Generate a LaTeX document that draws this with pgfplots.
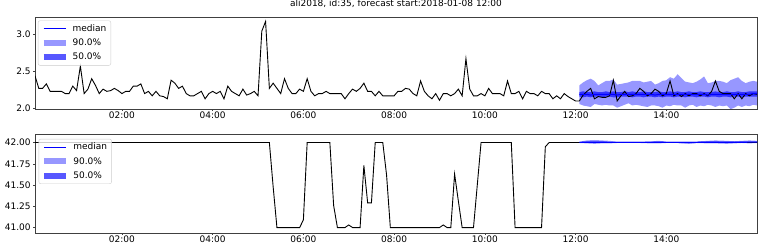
\documentclass[border=0pt]{standalone}
\usepackage{fontspec}
\setmainfont{DejaVu Sans}
\usepackage{pgfplots}
\usepackage{pgfplotstable}
\pgfplotsset{compat=1.18}
\usepgfplotslibrary{fillbetween}

% observed target, 5 min steps, i=1 is 00:05
\pgfplotstableread{
i v
1 2.44
2 2.27
3 2.27
4 2.33
5 2.23
6 2.23
7 2.23
8 2.23
9 2.20
10 2.20
11 2.30
12 2.24
13 2.57
14 2.20
15 2.26
16 2.40
17 2.31
18 2.20
19 2.26
20 2.23
21 2.24
22 2.27
23 2.24
24 2.20
25 2.23
26 2.23
27 2.30
28 2.30
29 2.33
30 2.20
31 2.23
32 2.17
33 2.23
34 2.17
35 2.16
36 2.13
37 2.38
38 2.34
39 2.27
40 2.30
41 2.20
42 2.17
43 2.17
44 2.20
45 2.23
46 2.13
47 2.20
48 2.23
49 2.20
50 2.23
51 2.13
52 2.30
53 2.23
54 2.20
55 2.17
56 2.26
57 2.18
58 2.20
59 2.23
60 2.17
61 3.04
62 3.17
63 2.27
64 2.34
65 2.27
66 2.20
67 2.40
68 2.27
69 2.20
70 2.20
71 2.26
72 2.23
73 2.40
74 2.23
75 2.17
76 2.20
77 2.20
78 2.23
79 2.20
80 2.20
81 2.20
82 2.20
83 2.13
84 2.20
85 2.26
86 2.23
87 2.27
88 2.34
89 2.23
90 2.23
91 2.17
92 2.23
93 2.17
94 2.17
95 2.17
96 2.17
97 2.23
98 2.23
99 2.27
100 2.26
101 2.20
102 2.17
103 2.37
104 2.23
105 2.17
106 2.13
107 2.20
108 2.11
109 2.20
110 2.20
111 2.17
112 2.20
113 2.26
114 2.17
115 2.67
116 2.26
117 2.17
118 2.17
119 2.20
120 2.17
121 2.27
122 2.20
123 2.20
124 2.20
125 2.17
126 2.37
127 2.20
128 2.20
129 2.23
130 2.13
131 2.23
132 2.20
133 2.20
134 2.17
135 2.23
136 2.20
137 2.20
138 2.13
139 2.17
140 2.13
141 2.20
142 2.16
143 2.13
144 2.10
145 2.10
146 2.18
147 2.23
148 2.27
149 2.13
150 2.16
151 2.15
152 2.15
153 2.17
154 2.38
155 2.10
156 2.17
157 2.23
158 2.16
159 2.17
160 2.20
161 2.27
162 2.23
163 2.17
164 2.20
165 2.26
166 2.23
167 2.17
168 2.20
169 2.37
170 2.17
171 2.20
172 2.16
173 2.20
174 2.17
175 2.20
176 2.20
177 2.17
178 2.20
179 2.17
180 2.23
181 2.37
182 2.23
183 2.20
184 2.20
185 2.20
186 2.13
187 2.20
188 2.13
189 2.20
190 2.17
191 2.20
192 2.19
}\tophist

\pgfplotstableread{
i lo90 lo50 med hi50 hi90
145 2.06 2.16 2.19 2.22 2.31
146 2.04 2.15 2.19 2.23 2.35
147 2.03 2.16 2.19 2.22 2.38
148 2.02 2.15 2.18 2.22 2.40
149 2.06 2.16 2.19 2.23 2.37
150 2.05 2.16 2.19 2.22 2.31
151 2.04 2.15 2.19 2.22 2.34
152 2.05 2.16 2.19 2.23 2.37
153 2.04 2.16 2.19 2.22 2.37
154 2.04 2.15 2.19 2.23 2.39
155 2.01 2.15 2.18 2.22 2.32
156 2.03 2.16 2.19 2.22 2.33
157 2.05 2.16 2.19 2.23 2.34
158 2.07 2.16 2.19 2.22 2.35
159 2.04 2.15 2.19 2.23 2.37
160 2.05 2.16 2.19 2.22 2.37
161 2.04 2.16 2.19 2.22 2.37
162 2.03 2.15 2.19 2.23 2.35
163 2.02 2.16 2.19 2.22 2.36
164 2.04 2.16 2.19 2.22 2.37
165 2.04 2.15 2.18 2.22 2.32
166 2.03 2.16 2.19 2.23 2.34
167 2.01 2.15 2.19 2.22 2.37
168 2.04 2.16 2.19 2.22 2.38
169 2.03 2.16 2.19 2.23 2.42
170 2.05 2.15 2.19 2.22 2.40
171 2.04 2.16 2.19 2.23 2.46
172 2.04 2.16 2.19 2.22 2.41
173 2.01 2.15 2.19 2.22 2.36
174 2.04 2.16 2.19 2.23 2.35
175 2.05 2.16 2.19 2.22 2.34
176 2.02 2.15 2.19 2.22 2.36
177 2.04 2.16 2.19 2.23 2.39
178 2.03 2.16 2.19 2.22 2.43
179 2.05 2.15 2.18 2.22 2.34
180 2.04 2.16 2.19 2.22 2.35
181 2.02 2.16 2.19 2.23 2.37
182 2.04 2.15 2.19 2.22 2.37
183 2.03 2.16 2.19 2.22 2.36
184 2.04 2.16 2.19 2.23 2.34
185 1.99 2.15 2.19 2.22 2.38
186 2.01 2.16 2.19 2.22 2.40
187 2.04 2.16 2.19 2.23 2.42
188 2.02 2.15 2.19 2.22 2.37
189 2.04 2.16 2.19 2.22 2.34
190 2.03 2.16 2.19 2.23 2.36
191 2.05 2.16 2.20 2.23 2.37
192 2.04 2.16 2.20 2.23 2.36
}\topfc

\pgfplotstableread{
i v
1 42.00
63 42.00
64 41.48
65 41.00
71 41.00
72 41.09
73 42.00
79 42.00
80 41.26
81 41.00
83 41.00
84 41.03
85 41.00
87 41.00
88 41.73
89 41.29
90 41.29
91 42.00
93 42.00
94 41.62
95 41.00
108 41.00
109 41.03
110 41.00
111 41.00
112 41.63
113 41.31
114 41.00
117 41.00
118 41.50
119 42.00
127 42.00
128 41.00
135 41.00
136 41.95
137 42.00
192 42.00
}\bothist

\pgfplotstableread{
i lo90 lo50 med hi50 hi90
145 41.995 41.998 42.002 42.006 42.010
147 41.990 41.995 42.003 42.010 42.025
149 41.985 41.995 42.004 42.012 42.030
151 41.990 41.995 42.003 42.010 42.025
153 41.990 41.996 42.002 42.008 42.020
155 41.995 41.998 42.002 42.006 42.010
158 41.995 41.998 42.002 42.006 42.012
161 41.995 41.998 42.002 42.006 42.010
164 41.990 41.997 42.002 42.007 42.015
166 41.990 41.996 42.003 42.009 42.020
168 41.995 41.998 42.002 42.006 42.012
171 41.995 41.998 42.002 42.006 42.010
174 41.985 41.995 42.000 42.006 42.012
176 41.995 41.998 42.002 42.006 42.012
179 41.990 41.996 42.004 42.010 42.020
181 41.990 41.996 42.004 42.010 42.025
184 41.985 41.995 42.003 42.008 42.020
186 41.990 41.996 42.003 42.008 42.015
188 41.995 41.998 42.004 42.010 42.020
190 41.990 41.997 42.005 42.012 42.025
192 41.995 41.998 42.005 42.010 42.020
}\botfc

\pgfplotsset{
  panel/.style={
    scale only axis, width=722pt,
    xmin=1, xmax=192,
    xtick={24,48,72,96,120,144,168},
    xticklabels={02:00,04:00,06:00,08:00,10:00,12:00,14:00},
    tick align=outside, xtick pos=bottom, ytick pos=left,
    major tick length=2pt,
    axis line style={black!75, line width=0.6pt},
    every tick/.style={black!75, line width=0.6pt},
    font=\fontsize{9}{10.8}\selectfont,
    /pgf/number format/assume math mode=true,
    yticklabel style={inner sep=2.2pt},
    legend cell align=left,
    legend style={anchor=north west, draw=black!20, rounded corners=2pt,
      fill=white, fill opacity=0.8, text opacity=1,
      inner xsep=2.5pt, inner ysep=2pt, row sep=2pt,
      /tikz/every odd column/.append style={column sep=2pt},
      font=\fontsize{9}{10.8}\selectfont},
  },
  medimg/.style={legend image code/.code={\draw[blue, line width=0.9pt] (0pt,0pt) -- (22pt,0pt);}},
  p90img/.style={legend image code/.code={\draw[blue, opacity=0.407, line width=6pt] (0pt,0pt) -- (22pt,0pt);}},
  p50img/.style={legend image code/.code={\draw[blue, opacity=0.66, line width=6pt] (0pt,0pt) -- (22pt,0pt);}},
}

\begin{document}
\begin{tikzpicture}
\path (0,0) rectangle (762pt,248pt);

\begin{axis}[panel,
  at={(35pt,141pt)}, anchor=south west, height=92pt,
  ymin=1.995, ymax=3.232, ytick={2.0,2.5,3.0},
  yticklabel style={/pgf/number format/.cd, fixed, fixed zerofill, precision=1},
  xticklabel style={inner sep=0.3pt},
  title={ali2018, id:35, forecast start:2018-01-08 12:00},
  title style={anchor=base, at={(0.5,1)}, yshift=4pt, inner sep=0pt,
    font=\fontsize{9}{10.8}\selectfont},
  legend style={at={(0.004,0.96)}},
]
\addlegendimage{medimg}\addlegendentry{median}
\addlegendimage{p90img}\addlegendentry{90.0\%}
\addlegendimage{p50img}\addlegendentry{50.0\%}

\addplot[black, line width=0.9pt, forget plot] table[x=i, y=v] {\tophist};
\addplot[blue, line width=1pt, forget plot] table[x=i, y=med] {\topfc};
\addplot[draw=none, name path=u90, forget plot] table[x=i, y=hi90] {\topfc};
\addplot[draw=none, name path=l90, forget plot] table[x=i, y=lo90] {\topfc};
\addplot[draw=none, name path=u50, forget plot] table[x=i, y=hi50] {\topfc};
\addplot[draw=none, name path=l50, forget plot] table[x=i, y=lo50] {\topfc};
\addplot[fill=blue, fill opacity=0.407, forget plot] fill between[of=u90 and l90];
\addplot[fill=blue, fill opacity=0.66, forget plot] fill between[of=u50 and l50];
\end{axis}

\begin{axis}[panel,
  at={(35pt,17pt)}, anchor=south west, height=98.7pt,
  ymin=40.938, ymax=42.099, ytick={41,41.25,41.5,41.75,42},
  yticklabel style={/pgf/number format/.cd, fixed, fixed zerofill, precision=2},
  xticklabel style={inner sep=1.2pt},
  legend style={at={(0.005,0.952)}},
]
\addlegendimage{medimg}\addlegendentry{median}
\addlegendimage{p90img}\addlegendentry{90.0\%}
\addlegendimage{p50img}\addlegendentry{50.0\%}

\addplot[black, line width=0.9pt, forget plot] table[x=i, y=v] {\bothist};
\addplot[blue, line width=1.2pt, forget plot] table[x=i, y=med] {\botfc};
\addplot[draw=none, name path=bu90, forget plot] table[x=i, y=hi90] {\botfc};
\addplot[draw=none, name path=bl90, forget plot] table[x=i, y=lo90] {\botfc};
\addplot[draw=none, name path=bu50, forget plot] table[x=i, y=hi50] {\botfc};
\addplot[draw=none, name path=bl50, forget plot] table[x=i, y=lo50] {\botfc};
\addplot[fill=blue, fill opacity=0.407, forget plot] fill between[of=bu90 and bl90];
\addplot[fill=blue, fill opacity=0.66, forget plot] fill between[of=bu50 and bl50];
\end{axis}
\end{tikzpicture}
\end{document}
